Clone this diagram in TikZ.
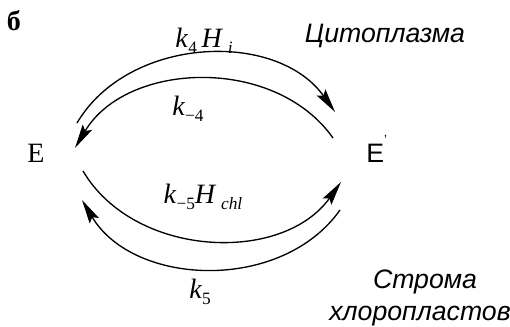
\documentclass[tikz,border=0pt]{standalone}
\usepackage{fontspec}
\setmainfont{Liberation Serif}
\setsansfont{Liberation Sans}
\usetikzlibrary{arrows.meta}
% subscript of a rate constant
\newcommand\lo[1]{\raisebox{-0.5ex}{\fontsize{13}{13}\selectfont#1}}
\tikzset{
  lbl/.style={inner sep=0pt,anchor=base,font=\fontsize{21}{23}\selectfont},
  zone/.style={inner sep=0pt,anchor=base,font=\sffamily\itshape\fontsize{20}{22}\selectfont},
  flow/.style={-{Stealth[length=18pt,width=8pt,inset=3pt]},line width=1pt},
}
\begin{document}
\begin{tikzpicture}[x=0.75pt,y=0.75pt]
  \useasboundingbox (0,0) rectangle (510,326);
  % labels
  \node[inner sep=0pt,anchor=base,font=\bfseries\fontsize{21}{23}\selectfont] (tag) at (14,296) {б};
  \node[lbl] (E) at (36,164) {E};
  \node[lbl,anchor=base west,font=\sffamily\fontsize{20}{22}\selectfont] (Ep) at (366,164) {E\raisebox{1.25ex}{\fontsize{10}{10}\selectfont’}};
  \node[zone] (cyto) at (385,284) {Цитоплазма};
  \node[zone] (stroma) at (425,38) {Строма};
  \node[zone] (chl) at (420,6) {хлоропластов};
  % ends of the arcs
  \coordinate (t1) at (77,203);  \coordinate (t2) at (335,214);
  \coordinate (t3) at (333,188); \coordinate (t4) at (75,178);
  \coordinate (b1) at (83,155);  \coordinate (b2) at (341,144);
  \coordinate (b3) at (340,116); \coordinate (b4) at (82,126);
  % transitions
  \draw[flow] (t1) to[bend left=57] (t2);
  \draw[flow] (t3) to[bend right=57] (t4);
  \draw[flow] (b1) to[bend right=57] (b2);
  \draw[flow] (b3) to[bend left=57] (b4);
  % rate constants
  \node[lbl] (k4) at (204,279) {\textit{k}\lo{4}\,\textit{H}\,\lo{\textit{i}}};
  \node[lbl] (km4) at (188,211) {\textit{k}\lo{−4}};
  \node[lbl] (km5) at (203,123) {\textit{k}\lo{−5}\textit{H}\,\lo{\textit{chl}}};
  \node[lbl] (k5) at (200,28) {\textit{k}\lo{5}};
\end{tikzpicture}
\end{document}
